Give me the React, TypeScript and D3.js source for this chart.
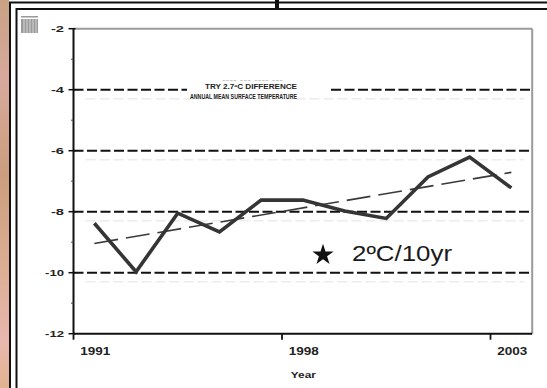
import React from "react";
import * as d3 from "d3";

// ---- data ----
const pointIndex = [0, 1, 2, 3, 4, 5, 6, 7, 8, 9, 10];
const temps = [-8.38, -9.97, -8.05, -8.66, -7.62, -7.62, -7.98, -8.22, -6.86, -6.21, -7.22];
const trendStart = -9.04;
const trendEnd = -6.71;
const yTicks = [-2, -4, -6, -8, -10, -12];
const yMinor = [-3, -5, -7, -9, -11];
const gridValues = [-4, -6, -8, -10];
const xTickIdx = [0, 5, 10];
const xTickLabels = ["1991", "1998", "2003"];
const annotation = "2ºC/10yr";
const noteLine1 = "TRY 2.7ºC DIFFERENCE";
const noteLine2 = "ANNUAL MEAN SURFACE TEMPERATURE";

const W = 547;
const H = 388;

export default function App() {
  const x = d3.scaleLinear().domain([-0.5, 10.5]).range([73.5, 532.2]);
  const y = d3.scaleLinear().domain([-12, -2]).range([333.7, 28.7]);
  const line = d3
    .line<number>()
    .x((_, i) => x(pointIndex[i]))
    .y((d) => y(d));
  const trend = d3
    .line<number>()
    .x((_, i) => x(i === 0 ? pointIndex[0] : pointIndex[pointIndex.length - 1]))
    .y((d) => y(d));
  const star = d3.symbol().type(d3.symbolStar).size(140)();
  const step = x(1) - x(0);
  const left = x(-0.5);
  const right = x(10.5);
  const top = y(-2);
  const bottom = y(-12);
  const font = "'Liberation Sans', Arial, sans-serif";

  return (
    <svg
      width={W}
      height={H}
      style={{ position: "absolute", left: 0, top: 0, background: "#fff" }}
    >
      <defs>
        <linearGradient id="strip" x1="0" y1="0" x2="0" y2="1">
          <stop offset="0" stopColor="#c9a184" />
          <stop offset="0.2" stopColor="#d7a99c" />
          <stop offset="0.45" stopColor="#cc9e7e" />
          <stop offset="0.7" stopColor="#dcae94" />
          <stop offset="0.88" stopColor="#e8b8ae" />
          <stop offset="1" stopColor="#e2b38f" />
        </linearGradient>
      </defs>
      <rect x={0} y={0} width={W} height={H} fill="#fff" />
      {/* textured strip on the left */}
      <rect x={0} y={0} width={9} height={H} fill="url(#strip)" />
      {/* outer frame lines */}
      <line x1={9} x2={W} y1={2.5} y2={2.5} stroke="#111" strokeWidth={2} />
      <line x1={16} x2={W} y1={9} y2={9} stroke="#111" strokeWidth={2} />
      <line x1={10} x2={10} y1={2} y2={H} stroke="#111" strokeWidth={2} />
      <line x1={16.5} x2={16.5} y1={8} y2={H} stroke="#111" strokeWidth={2} />
      <rect x={275} y={0} width={4} height={8} fill="#111" />

      {/* small icon top-left */}
      <rect x={21} y={16} width={17} height={1.5} fill="#999" />
      <rect x={21} y={19} width={17} height={14} fill="#9a9a9a" />
      {[24, 27, 30, 33, 36].map((vx) => (
        <line key={vx} x1={vx} x2={vx} y1={19} y2={33} stroke="#d8d8d8" strokeWidth={1} />
      ))}

      {/* plot frame top/right */}
      <line x1={left} x2={right} y1={top} y2={top} stroke="#9a9a9a" strokeWidth={2} />
      <line x1={right} x2={right} y1={top} y2={bottom} stroke="#9a9a9a" strokeWidth={2} />

      {/* faint ghost lines */}
      {gridValues.map((v) => (
        <line
          key={"g" + v}
          x1={left + 12}
          x2={right - 8}
          y1={y(v) + 9}
          y2={y(v) + 9}
          stroke="#ececec"
          strokeWidth={1.5}
          strokeDasharray="10 4"
        />
      ))}

      {/* gridlines */}
      {gridValues.map((v) =>
        v === -4 ? (
          <g key={v}>
            <line x1={left} x2={187} y1={y(v)} y2={y(v)} stroke="#111" strokeWidth={2} strokeDasharray="10 3.5" />
            <line x1={331} x2={right} y1={y(v)} y2={y(v)} stroke="#111" strokeWidth={2} strokeDasharray="10 3.5" />
          </g>
        ) : (
          <line key={v} x1={left} x2={right} y1={y(v)} y2={y(v)} stroke="#111" strokeWidth={2} strokeDasharray="10 3.5" />
        )
      )}

      {/* tiny note text in the gap */}
      <text x={222} y={81} fontFamily={font} fontSize={3} fill="#444" textLength={61} lengthAdjust="spacingAndGlyphs">
        ---- --- ---- ---
      </text>
      <text x={205} y={89} fontFamily={font} fontSize={6.5} fontWeight="bold" fill="#222" textLength={92} lengthAdjust="spacingAndGlyphs">
        {noteLine1}
      </text>
      <text x={190} y={99} fontFamily={font} fontSize={6.5} fontWeight="bold" fill="#222" textLength={107} lengthAdjust="spacingAndGlyphs">
        {noteLine2}
      </text>

      {/* trend line */}
      <path
        d={trend([trendStart, trendEnd]) || ""}
        fill="none"
        stroke="#3a3a3a"
        strokeWidth={1.6}
        strokeDasharray="24 8"
      />
      {/* data line */}
      <path
        d={line(temps) || ""}
        fill="none"
        stroke="#353535"
        strokeWidth={3.6}
        strokeLinejoin="miter"
      />

      {/* y axis */}
      <line x1={left} x2={left} y1={top} y2={bottom} stroke="#111" strokeWidth={2} />
      {yTicks.map((v) => (
        <g key={v}>
          <line x1={left - 5} x2={left + 2} y1={y(v)} y2={y(v)} stroke="#111" strokeWidth={1.5} />
          <text
            x={64}
            y={y(v) + 3.5}
            textAnchor="end"
            fontFamily={font}
            fontSize={9}
            fontWeight="bold"
            fill="#222"
            textLength={String(v).length === 2 ? 13 : 19}
            lengthAdjust="spacingAndGlyphs"
          >
            {String(v)}
          </text>
        </g>
      ))}
      {yMinor.map((v) => (
        <line key={v} x1={left - 2.5} x2={left} y1={y(v)} y2={y(v)} stroke="#444" strokeWidth={1} />
      ))}

      {/* x axis */}
      <line x1={left} x2={right} y1={bottom} y2={bottom} stroke="#111" strokeWidth={2} />
      {xTickIdx.map((ix, k) => (
        <g key={ix}>
          <line x1={x(ix) - step / 2} x2={x(ix) - step / 2} y1={bottom} y2={bottom + 6} stroke="#111" strokeWidth={1.8} />
          <text
            x={x(ix) + 1}
            y={355}
            textAnchor="middle"
            fontFamily={font}
            fontSize={10}
            fontWeight="bold"
            fill="#222"
            textLength={30}
            lengthAdjust="spacingAndGlyphs"
          >
            {xTickLabels[k]}
          </text>
        </g>
      ))}
      <text
        x={x(5) + 0.5}
        y={378}
        textAnchor="middle"
        fontFamily={font}
        fontSize={9}
        fontWeight="bold"
        fill="#222"
        textLength={25}
        lengthAdjust="spacingAndGlyphs"
      >
        Year
      </text>

      {/* annotation */}
      <path d={star || ""} transform={`translate(323,255)`} fill="#111" />
      <text x={352} y={261} fontFamily={font} fontSize={22} fill="#1a1a1a" textLength={100} lengthAdjust="spacingAndGlyphs">
        {annotation}
      </text>
    </svg>
  );
}
